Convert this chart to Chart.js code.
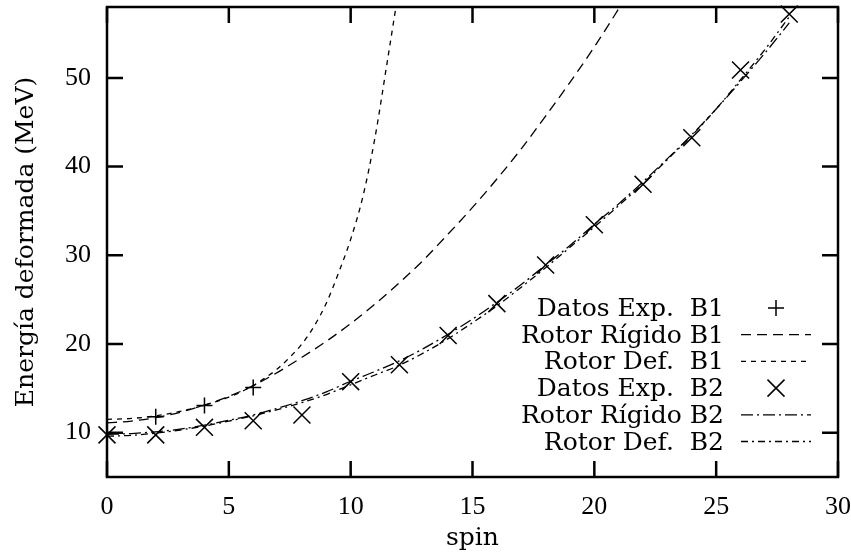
<!DOCTYPE html>
<html lang="es">
<head>
    <meta charset="UTF-8">
    <script src="https://cdn.jsdelivr.net/npm/chart.js"></script>
    <title>Energía deformada</title>
    <style>
        body { margin: 0; background: #fff; }
        .contenedor { width: 851px; height: 559px; }
    </style>
</head>
<body>
<div class="contenedor">
    <canvas id="grafico" width="851" height="559"></canvas>
</div>

<script>
    // Marcas de los ejes
    const xTicks = [0, 5, 10, 15, 20, 25, 30];
    const yTicks = [10, 20, 30, 40, 50];

    // Datos experimentales banda 1 (+)
    const spinExpB1 = [2, 4, 6];
    const energiaExpB1 = [11.8, 13.05, 15.1];

    // Datos experimentales banda 2 (x)
    const spinExpB2 = [0, 2, 4, 6, 8, 10, 12, 14, 16, 18, 20, 22, 24, 26, 28];
    const energiaExpB2 = [9.75, 9.75, 10.6, 11.35, 12.0, 15.75, 17.65, 20.95, 24.55, 28.9, 33.45, 38.0, 43.25, 50.9, 57.2];

    // Rotor rígido banda 1
    const spinRigidoB1 = [0, 1, 2, 3, 4, 5, 6, 7, 8, 9, 10, 11, 12, 13, 14, 15, 16, 17, 18, 19, 20, 21, 22];
    const energiaRigidoB1 = [11.1, 11.3, 11.7, 12.3, 13.1, 14.1, 15.3, 16.8, 18.5, 20.3, 22.3, 24.5, 26.9, 29.5, 32.4, 35.4, 38.6, 42.0, 45.7, 49.5, 53.5, 57.8, 62.2];

    // Rotor deformado banda 1
    const spinDefB1 = [0, 1, 2, 3, 4, 5, 6, 6.5, 7, 7.5, 8, 8.5, 9, 9.5, 10, 10.5, 11, 11.5, 12];
    const energiaDefB1 = [11.5, 11.6, 11.9, 12.4, 13.1, 14.0, 15.3, 16.2, 17.2, 18.5, 20.0, 22.0, 24.6, 28.0, 31.8, 36.6, 43.3, 51.8, 60.5];

    // Rotor rígido banda 2
    const spinRigidoB2 = [0, 1, 2, 3, 4, 5, 6, 7, 8, 9, 10, 11, 12, 13, 14, 15, 16, 17, 18, 19, 20, 21, 22, 23, 24, 25, 26, 27, 28];
    const energiaRigidoB2 = [9.8, 9.9, 10.1, 10.4, 10.85, 11.4, 12.0, 12.75, 13.6, 14.6, 15.8, 16.9, 18.1, 19.5, 21.1, 22.8, 24.7, 26.7, 28.9, 31.1, 33.5, 35.8, 38.3, 40.9, 43.6, 46.5, 49.6, 52.8, 56.2];

    // Rotor deformado banda 2
    const spinDefB2 = [0, 1, 2, 3, 4, 5, 6, 7, 8, 9, 10, 11, 12, 13, 14, 15, 16, 17, 18, 19, 20, 21, 22, 23, 24, 25, 26, 27, 28];
    const energiaDefB2 = [9.6, 9.7, 9.95, 10.3, 10.75, 11.3, 11.9, 12.6, 13.4, 14.3, 15.4, 16.5, 17.6, 19.0, 20.6, 22.4, 24.3, 26.4, 28.6, 30.9, 33.2, 35.6, 38.1, 40.8, 43.5, 46.5, 49.8, 53.2, 56.9];

    const leyendaTextos = ['Datos Exp.  B1', 'Rotor Rígido B1', 'Rotor Def.  B1', 'Datos Exp.  B2', 'Rotor Rígido B2', 'Rotor Def.  B2'];

    const fuenteTexto = '"DejaVu Serif", serif';
    const fuenteNumeros = '"Liberation Serif", "Times New Roman", serif';

    const dashRigidoB1 = [10, 6];
    const dashDefB1 = [5, 5];
    const dashRigidoB2 = [12, 4, 2, 4];
    const dashDefB2 = [7, 4, 2, 4];

    function pares(xs, ys) {
        return xs.map((x, i) => ({x: x, y: ys[i]}));
    }

    function curva(label, xs, ys, dash) {
        return {
            label: label,
            data: pares(xs, ys),
            showLine: true,
            borderColor: '#000',
            borderWidth: 1.3,
            borderDash: dash,
            pointRadius: 0,
            cubicInterpolationMode: 'monotone',
            fill: false
        };
    }

    // Borde del gráfico y marcas hacia dentro (estilo gnuplot)
    const bordeYMarcas = {
        id: 'bordeYMarcas',
        afterDatasetsDraw(chart) {
            const {ctx, chartArea: a, scales: {x, y}} = chart;
            ctx.save();
            ctx.strokeStyle = '#000';
            ctx.lineWidth = 2.5;
            ctx.setLineDash([]);
            ctx.strokeRect(a.left, a.top, a.right - a.left, a.bottom - a.top);
            ctx.beginPath();
            xTicks.forEach(v => {
                const px = x.getPixelForValue(v);
                ctx.moveTo(px, a.bottom); ctx.lineTo(px, a.bottom - 16);
                ctx.moveTo(px, a.top); ctx.lineTo(px, a.top + 16);
            });
            yTicks.forEach(v => {
                const py = y.getPixelForValue(v);
                ctx.moveTo(a.left, py); ctx.lineTo(a.left + 16, py);
                ctx.moveTo(a.right, py); ctx.lineTo(a.right - 16, py);
            });
            ctx.stroke();
            ctx.restore();
        }
    };

    // Leyenda: texto alineado a la derecha y muestra a la derecha
    const leyenda = {
        id: 'leyendaGnuplot',
        afterDraw(chart) {
            const ctx = chart.ctx;
            const textoX = 724, muestraIni = 741, muestraFin = 811, base0 = 316, paso = 26.7;
            const muestras = ['+', dashRigidoB1, dashDefB1, 'x', dashRigidoB2, dashDefB2];
            ctx.save();
            ctx.fillStyle = '#000';
            ctx.strokeStyle = '#000';
            ctx.font = '25px ' + fuenteTexto;
            ctx.textAlign = 'right';
            ctx.textBaseline = 'alphabetic';
            leyendaTextos.forEach((t, i) => {
                const base = base0 + paso * i;
                ctx.fillText(t, textoX, base);
                const cy = base - 8;
                const m = muestras[i];
                ctx.beginPath();
                if (m === '+') {
                    ctx.setLineDash([]);
                    ctx.lineWidth = 1.5;
                    ctx.moveTo(776 - 8, cy); ctx.lineTo(776 + 8, cy);
                    ctx.moveTo(776, cy - 8); ctx.lineTo(776, cy + 8);
                } else if (m === 'x') {
                    ctx.setLineDash([]);
                    ctx.lineWidth = 1.5;
                    ctx.moveTo(776 - 8.5, cy - 8.5); ctx.lineTo(776 + 8.5, cy + 8.5);
                    ctx.moveTo(776 - 8.5, cy + 8.5); ctx.lineTo(776 + 8.5, cy - 8.5);
                } else {
                    ctx.setLineDash(m);
                    ctx.lineWidth = 1.3;
                    ctx.moveTo(muestraIni, cy); ctx.lineTo(muestraFin, cy);
                }
                ctx.stroke();
            });
            ctx.restore();
        }
    };

    const ctx = document.getElementById('grafico').getContext('2d');
    new Chart(ctx, {
        type: 'scatter',
        data: {
            datasets: [
                {
                    label: leyendaTextos[0],
                    data: pares(spinExpB1, energiaExpB1),
                    showLine: false,
                    pointStyle: 'cross',
                    pointRadius: 8,
                    pointBorderWidth: 1.5,
                    borderColor: '#000',
                    backgroundColor: '#000',
                    clip: false
                },
                curva(leyendaTextos[1], spinRigidoB1, energiaRigidoB1, dashRigidoB1),
                curva(leyendaTextos[2], spinDefB1, energiaDefB1, dashDefB1),
                {
                    label: leyendaTextos[3],
                    data: pares(spinExpB2, energiaExpB2),
                    showLine: false,
                    pointStyle: 'crossRot',
                    pointRadius: 12,
                    pointBorderWidth: 1.5,
                    borderColor: '#000',
                    backgroundColor: '#000',
                    clip: false
                },
                curva(leyendaTextos[4], spinRigidoB2, energiaRigidoB2, dashRigidoB2),
                curva(leyendaTextos[5], spinDefB2, energiaDefB2, dashDefB2)
            ]
        },
        options: {
            responsive: false,
            animation: false,
            layout: { autoPadding: false, padding: { top: 7, right: 13, left: 0, bottom: 0 } },
            plugins: {
                legend: { display: false },
                tooltip: { enabled: false }
            },
            scales: {
                x: {
                    type: 'linear',
                    min: 0,
                    max: 30,
                    grid: { display: false, drawTicks: false },
                    border: { display: false },
                    afterBuildTicks: s => { s.ticks = xTicks.map(v => ({value: v})); },
                    afterFit: s => { s.height = 82; s.paddingLeft = 0; s.paddingRight = 0; },
                    ticks: {
                        color: '#000',
                        padding: 15,
                        maxRotation: 0,
                        font: { family: fuenteNumeros, size: 26 }
                    },
                    title: {
                        display: true,
                        text: 'spin',
                        color: '#000',
                        padding: { top: 0, bottom: 6 },
                        font: { family: fuenteTexto, size: 25 }
                    }
                },
                y: {
                    type: 'linear',
                    min: 5,
                    max: 58,
                    grid: { display: false, drawTicks: false },
                    border: { display: false },
                    afterBuildTicks: s => { s.ticks = yTicks.map(v => ({value: v})); },
                    afterFit: s => { s.width = 107; s.paddingTop = 0; s.paddingBottom = 0; },
                    ticks: {
                        color: '#000',
                        padding: 16,
                        font: { family: fuenteNumeros, size: 26 }
                    },
                    title: {
                        display: true,
                        text: 'Energía deformada (MeV)',
                        color: '#000',
                        padding: { top: 11, bottom: 0 },
                        font: { family: fuenteTexto, size: 25 }
                    }
                }
            }
        },
        plugins: [bordeYMarcas, leyenda]
    });
</script>
</body>
</html>
